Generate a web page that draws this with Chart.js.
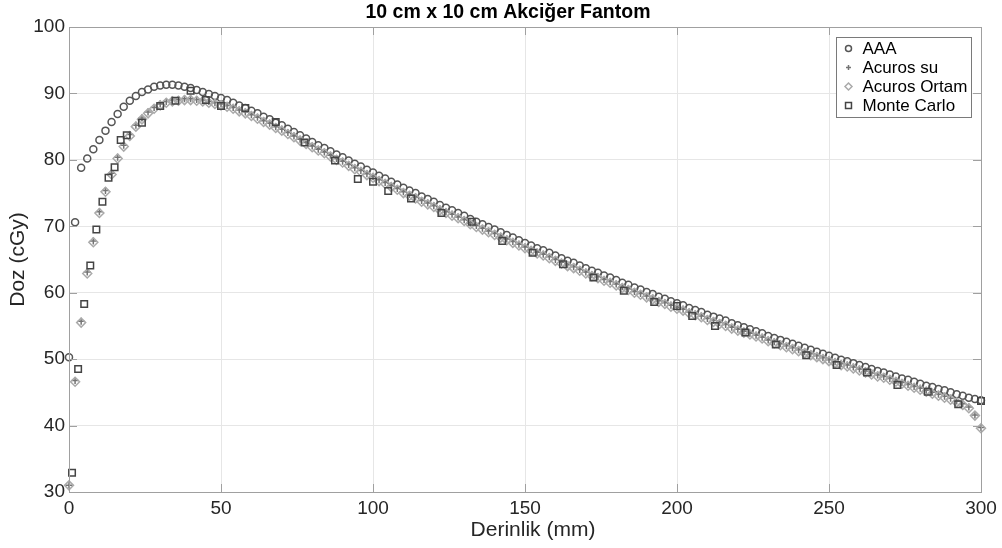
<!DOCTYPE html>
<html>
<head>
<meta charset="utf-8">
<script src="https://cdn.jsdelivr.net/npm/chart.js@4.4.0/dist/chart.umd.min.js"></script>
<style>
  html, body { margin: 0; padding: 0; background: #fff; }
</style>
</head>
<body>
<canvas id="graph" width="1002" height="548"></canvas>
<script>
// données
const chartTitle = '10 cm x 10 cm Akciğer Fantom';
const xTitle = 'Derinlik (mm)';
const yTitle = 'Doz (cGy)';
const seriesNames = ['AAA', 'Acuros su', 'Acuros Ortam', 'Monte Carlo'];

// profondeur (mm) des points AAA / Acuros
const depth = [
  0, 2, 4, 6, 8, 10, 12, 14, 16, 18, 20, 22, 24, 26, 28, 30, 32, 34, 36, 38,
  40, 42, 44, 46, 48, 50, 52, 54, 56, 58, 60, 62, 64, 66, 68, 70, 72, 74, 76, 78,
  80, 82, 84, 86, 88, 90, 92, 94, 96, 98, 100, 102, 104, 106, 108, 110, 112, 114, 116, 118,
  120, 122, 124, 126, 128, 130, 132, 134, 136, 138, 140, 142, 144, 146, 148, 150, 152, 154, 156, 158,
  160, 162, 164, 166, 168, 170, 172, 174, 176, 178, 180, 182, 184, 186, 188, 190, 192, 194, 196, 198,
  200, 202, 204, 206, 208, 210, 212, 214, 216, 218, 220, 222, 224, 226, 228, 230, 232, 234, 236, 238,
  240, 242, 244, 246, 248, 250, 252, 254, 256, 258, 260, 262, 264, 266, 268, 270, 272, 274, 276, 278,
  280, 282, 284, 286, 288, 290, 292, 294, 296, 298, 300
];

const aaa = [
  50.3, 70.6, 78.8, 80.2, 81.6, 83.0, 84.4, 85.7, 86.9, 88.0, 88.9, 89.6, 90.2, 90.6, 91.0, 91.2, 91.3, 91.3, 91.2, 91.0,
  90.8, 90.5, 90.2, 89.9, 89.6, 89.3, 89.0, 88.6, 88.2, 87.8, 87.4, 87.0, 86.5, 86.1, 85.6, 85.2, 84.7, 84.2, 83.7, 83.2,
  82.7, 82.2, 81.8, 81.3, 80.8, 80.4, 79.9, 79.4, 79.0, 78.5, 78.1, 77.6, 77.2, 76.7, 76.3, 75.8, 75.4, 75.0, 74.5, 74.1,
  73.7, 73.2, 72.8, 72.4, 72.0, 71.6, 71.1, 70.7, 70.3, 69.9, 69.5, 69.1, 68.7, 68.3, 67.9, 67.5, 67.1, 66.7, 66.4, 66.0,
  65.6, 65.2, 64.8, 64.5, 64.1, 63.7, 63.3, 63.0, 62.6, 62.3, 61.9, 61.5, 61.2, 60.8, 60.5, 60.1, 59.8, 59.4, 59.1, 58.7,
  58.4, 58.1, 57.7, 57.4, 57.1, 56.7, 56.4, 56.1, 55.8, 55.4, 55.1, 54.8, 54.5, 54.2, 53.9, 53.5, 53.2, 52.9, 52.6, 52.3,
  52.0, 51.7, 51.4, 51.1, 50.8, 50.5, 50.2, 49.9, 49.7, 49.4, 49.1, 48.8, 48.5, 48.2, 48.0, 47.7, 47.4, 47.1, 46.9, 46.6,
  46.3, 46.0, 45.8, 45.5, 45.3, 45.0, 44.7, 44.5, 44.2, 44.0, 43.8
];

const acurosSu = [
  31.0, 46.8, 55.7, 63.1, 67.8, 72.2, 75.4, 78.0, 80.4, 82.2, 83.8, 85.2, 86.3, 87.2, 87.9, 88.4, 88.8, 89.0, 89.1, 89.2,
  89.2, 89.1, 89.0, 88.8, 88.6, 88.4, 88.2, 87.9, 87.5, 87.2, 86.8, 86.4, 85.9, 85.5, 85.0, 84.6, 84.1, 83.6, 83.1, 82.6,
  82.1, 81.6, 81.2, 80.7, 80.2, 79.8, 79.3, 78.8, 78.4, 77.9, 77.5, 77.0, 76.6, 76.1, 75.7, 75.2, 74.8, 74.4, 73.9, 73.5,
  73.1, 72.6, 72.2, 71.8, 71.4, 71.0, 70.5, 70.1, 69.7, 69.3, 68.9, 68.5, 68.1, 67.7, 67.3, 66.9, 66.5, 66.1, 65.8, 65.4,
  65.0, 64.6, 64.2, 63.9, 63.5, 63.1, 62.7, 62.4, 62.0, 61.7, 61.3, 60.9, 60.6, 60.2, 59.9, 59.5, 59.2, 58.8, 58.5, 58.1,
  57.8, 57.5, 57.1, 56.8, 56.5, 56.1, 55.8, 55.5, 55.2, 54.8, 54.5, 54.2, 53.9, 53.6, 53.3, 52.9, 52.6, 52.3, 52.0, 51.7,
  51.4, 51.1, 50.8, 50.5, 50.2, 49.9, 49.6, 49.3, 49.1, 48.8, 48.5, 48.2, 47.9, 47.6, 47.4, 47.1, 46.8, 46.5, 46.2, 45.9,
  45.6, 45.3, 45.0, 44.7, 44.4, 44.1, 43.7, 43.3, 42.8, 41.6, 39.7
];

const acurosOrtam = [
  31.0, 46.6, 55.5, 62.9, 67.6, 72.0, 75.2, 77.8, 80.2, 82.0, 83.6, 85.0, 86.1, 87.0, 87.7, 88.2, 88.6, 88.8, 88.9, 89.0,
  89.0, 88.9, 88.8, 88.6, 88.4, 88.2, 88.0, 87.7, 87.3, 87.0, 86.6, 86.2, 85.7, 85.3, 84.8, 84.4, 83.9, 83.4, 82.9, 82.4,
  81.9, 81.4, 81.0, 80.5, 80.0, 79.6, 79.1, 78.6, 78.2, 77.7, 77.3, 76.8, 76.4, 75.9, 75.5, 75.0, 74.6, 74.2, 73.7, 73.3,
  72.9, 72.4, 72.0, 71.6, 71.2, 70.8, 70.3, 69.9, 69.5, 69.1, 68.7, 68.3, 67.9, 67.5, 67.1, 66.7, 66.3, 65.9, 65.6, 65.2,
  64.8, 64.4, 64.0, 63.7, 63.3, 62.9, 62.5, 62.2, 61.8, 61.5, 61.1, 60.7, 60.4, 60.0, 59.7, 59.3, 59.0, 58.6, 58.3, 57.9,
  57.6, 57.3, 56.9, 56.6, 56.3, 55.9, 55.6, 55.3, 55.0, 54.6, 54.3, 54.0, 53.7, 53.4, 53.1, 52.7, 52.4, 52.1, 51.8, 51.5,
  51.2, 50.9, 50.6, 50.3, 50.0, 49.7, 49.4, 49.1, 48.9, 48.6, 48.3, 48.0, 47.7, 47.4, 47.2, 46.9, 46.6, 46.3, 46.0, 45.7,
  45.4, 45.1, 44.8, 44.5, 44.2, 43.9, 43.5, 43.1, 42.6, 41.5, 39.6
];

// Monte Carlo : points moins nombreux
const mcDepth = [
  1, 3, 5, 7, 9, 11, 13, 15, 17, 19, 24, 30, 35, 40, 45, 50, 58, 68, 77.5, 87.5,
  95, 100, 105, 112.5, 122.5, 132.5, 142.5, 152.5, 162.5, 172.5, 182.5, 192.5, 200, 205, 212.5, 222.5, 232.5, 242.5, 252.5, 262.5,
  272.5, 282.5, 292.5, 300
];
const mcDose = [
  32.9, 48.5, 58.3, 64.1, 69.5, 73.7, 77.3, 78.9, 83.0, 83.7, 85.6, 88.1, 88.9, 90.4, 89.0, 88.1, 87.8, 85.7, 82.6, 79.9,
  77.1, 76.7, 75.3, 74.2, 72.0, 70.7, 67.8, 66.0, 64.3, 62.3, 60.3, 58.6, 58.0, 56.5, 55.0, 54.0, 52.2, 50.6, 49.1, 48.0,
  46.1, 45.1, 43.2, 43.7
];

// styles des marqueurs
const markerStyle = [
  { pointStyle: 'circle', color: '#555555', radius: 3.5, legendRadius: 3 },
  { pointStyle: 'cross', color: '#747474', radius: 3.5, legendRadius: 2.5 },
  { pointStyle: 'rectRot', color: '#aaaaaa', radius: 4.5, legendRadius: 3.5 },
  { pointStyle: 'rect', color: '#444444', radius: 4.6, legendRadius: 4.2 }
];

const toPoints = (xs, ys) => xs.map((x, i) => ({ x: x, y: ys[i] }));
const seriesData = [
  toPoints(depth, aaa),
  toPoints(depth, acurosSu),
  toPoints(depth, acurosOrtam),
  toPoints(mcDepth, mcDose)
];

const font = 'Liberation Sans, Arial, Helvetica, sans-serif';
const axisColor = '#a0a0a0';

// titre, titres d'axes, cadre, graduations internes et légende (style MATLAB)
const matlabLook = {
  id: 'matlabLook',
  afterDraw(chart) {
    const ctx = chart.ctx;
    const a = chart.chartArea;
    const xs = chart.scales.x, ys = chart.scales.y;
    ctx.save();

    // titre
    ctx.fillStyle = '#000';
    ctx.font = 'bold 19.5px ' + font;
    ctx.textAlign = 'center';
    ctx.textBaseline = 'middle';
    ctx.fillText(chartTitle, 508, 13);

    // titres des axes
    ctx.fillStyle = '#262626';
    ctx.font = '21px ' + font;
    ctx.fillText(xTitle, 533, 530);
    ctx.save();
    ctx.translate(18, (a.top + a.bottom) / 2);
    ctx.rotate(-Math.PI / 2);
    ctx.fillText(yTitle, 0, 0);
    ctx.restore();

    // cadre
    ctx.strokeStyle = axisColor;
    ctx.lineWidth = 1;
    ctx.strokeRect(Math.round(a.left) + 0.5, Math.round(a.top) + 0.5,
      Math.round(a.right - a.left), Math.round(a.bottom - a.top));

    // graduations vers l'intérieur
    ctx.beginPath();
    xs.ticks.forEach(t => {
      const px = Math.round(xs.getPixelForValue(t.value)) + 0.5;
      ctx.moveTo(px, a.bottom); ctx.lineTo(px, a.bottom - 8);
      ctx.moveTo(px, a.top); ctx.lineTo(px, a.top + 8);
    });
    ys.ticks.forEach(t => {
      const py = Math.round(ys.getPixelForValue(t.value)) + 0.5;
      ctx.moveTo(a.left, py); ctx.lineTo(a.left + 8, py);
      ctx.moveTo(a.right, py); ctx.lineTo(a.right - 8, py);
    });
    ctx.stroke();

    // légende
    const bx = 836.5, by = 37.5, bw = 135, bh = 80;
    ctx.fillStyle = '#fff';
    ctx.fillRect(bx, by, bw, bh);
    ctx.strokeStyle = '#7a7a7a';
    ctx.strokeRect(bx, by, bw, bh);
    ctx.font = '17px ' + font;
    ctx.textAlign = 'left';
    seriesNames.forEach((name, i) => {
      const my = by + 11 + i * 19;
      const mx = bx + 12;
      const st = markerStyle[i];
      const r = st.legendRadius;
      ctx.strokeStyle = st.color;
      ctx.lineWidth = 1.5;
      ctx.beginPath();
      if (st.pointStyle === 'circle') {
        ctx.arc(mx, my, r, 0, Math.PI * 2);
      } else if (st.pointStyle === 'cross') {
        ctx.moveTo(mx - r, my); ctx.lineTo(mx + r, my);
        ctx.moveTo(mx, my - r); ctx.lineTo(mx, my + r);
      } else if (st.pointStyle === 'rectRot') {
        ctx.moveTo(mx, my - r); ctx.lineTo(mx + r, my);
        ctx.lineTo(mx, my + r); ctx.lineTo(mx - r, my); ctx.closePath();
      } else {
        const s = r * Math.SQRT1_2;
        ctx.rect(mx - s, my - s, 2 * s, 2 * s);
      }
      ctx.stroke();
      ctx.fillStyle = '#000';
      ctx.fillText(name, bx + 26, my + 1);
    });
    ctx.restore();
  }
};

const datasets = seriesNames.map((name, i) => ({
  label: name,
  data: seriesData[i],
  showLine: false,
  pointStyle: markerStyle[i].pointStyle,
  pointRadius: markerStyle[i].radius,
  pointBorderWidth: 1.5,
  pointBorderColor: markerStyle[i].color,
  pointBackgroundColor: 'rgba(0,0,0,0)',
  order: seriesNames.length - i,
  clip: false
}));

new Chart(document.getElementById('graph'), {
  type: 'scatter',
  data: { datasets: datasets },
  options: {
    responsive: false,
    animation: false,
    layout: { padding: { top: 27, right: 21, left: 0, bottom: 0 } },
    plugins: {
      legend: { display: false },
      title: { display: false },
      tooltip: { enabled: false }
    },
    scales: {
      x: {
        type: 'linear', min: 0, max: 300,
        ticks: { stepSize: 50, color: '#262626', font: { family: font, size: 19 }, padding: 5, maxRotation: 0 },
        grid: { color: '#e6e6e6', drawTicks: false },
        border: { display: false },
        afterFit: s => { s.height = 56; }
      },
      y: {
        type: 'linear', min: 30, max: 100,
        ticks: { stepSize: 10, color: '#262626', font: { family: font, size: 19 }, padding: 4 },
        grid: { color: '#e6e6e6', drawTicks: false },
        border: { display: false },
        afterFit: s => { s.width = 69; }
      }
    }
  },
  plugins: [matlabLook]
});
</script>
</body>
</html>
